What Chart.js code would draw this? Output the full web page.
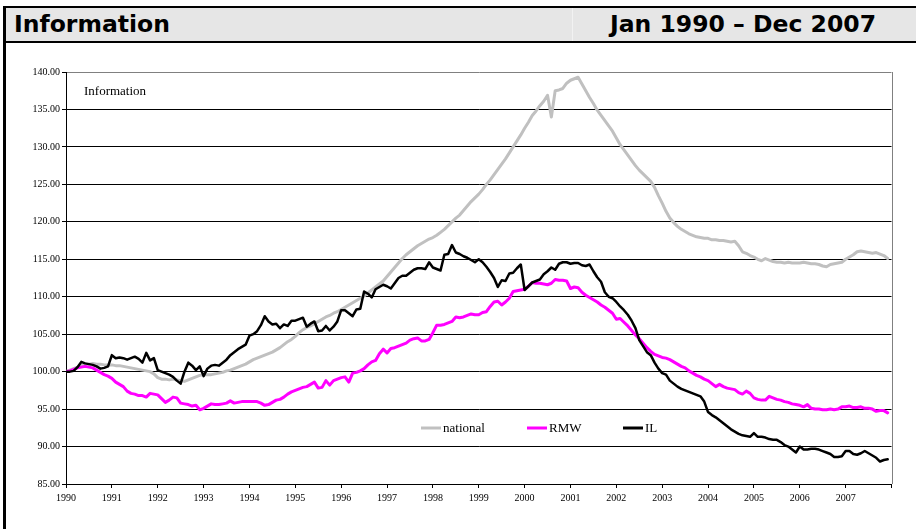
<!DOCTYPE html>
<html lang="en">
<head>
    <meta charset="UTF-8">
    <title>Information</title>
    <script src="https://cdn.jsdelivr.net/npm/chart.js"></script>
    <style>
        body {
            margin: 0;
            width: 916px;
            height: 529px;
            overflow: hidden;
            background: #fff;
            position: relative;
        }
        .frame {
            position: absolute;
            left: 3px;
            top: 6px;
            width: 960px;
            height: 560px;
            border: 2px solid #000;
            border-left-width: 3px;
            box-sizing: border-box;
        }
        .header {
            position: absolute;
            left: 3px;
            top: 6px;
            width: 960px;
            height: 37px;
            background: #e6e6e6;
            border: 2px solid #000;
            border-left-width: 3px;
            box-sizing: border-box;
            font-family: "DejaVu Sans", Arial, sans-serif;
            font-weight: bold;
            font-size: 23.5px;
            color: #000;
            z-index: 2;
        }
        .header span {
            position: absolute;
            top: 2px;
            white-space: nowrap;
        }
        .header .sep {
            position: absolute;
            left: 566px;
            top: 0;
            width: 1px;
            height: 100%;
            background: #f2f2f2;
        }
        #hLeft { left: 8px; }
        #hRight { right: 85px; }
        #chart {
            position: absolute;
            left: 0;
            top: 0;
            z-index: 1;
        }
    </style>
</head>
<body>
    <div class="frame"></div>
    <div class="header">
        <div class="sep"></div>
        <span id="hLeft">Information</span>
        <span id="hRight">Jan 1990 – Dec 2007</span>
    </div>
    <canvas id="chart" width="916" height="529"></canvas>

    <script>
        // monthly index values, Jan 1990 = 100
        const yearLabels = ["1990", "1991", "1992", "1993", "1994", "1995", "1996", "1997", "1998",
            "1999", "2000", "2001", "2002", "2003", "2004", "2005", "2006", "2007"];

        const national = [
            100.0, 100.2, 100.4, 100.6, 100.8, 101.0, 101.0, 101.1, 101.0, 101.0, 100.9, 100.9,
            100.9, 100.8, 100.8, 100.7, 100.6, 100.5, 100.4, 100.3, 100.2, 100.1, 100.0, 99.7,
            99.2, 99.0, 99.0, 98.9, 99.0, 98.9, 98.8, 98.7, 98.9, 99.1, 99.3, 99.5,
            99.6, 99.6, 99.6, 99.7, 99.8, 99.9, 100.1, 100.2, 100.4, 100.6, 100.8, 101.0,
            101.3, 101.6, 101.8, 102.0, 102.2, 102.4, 102.6, 102.9, 103.2, 103.6, 104.0, 104.3,
            104.7, 105.2, 105.6, 105.9, 106.1, 106.4, 106.7, 107.0, 107.3, 107.5, 107.8, 108.0,
            108.3, 108.6, 108.9, 109.2, 109.5, 109.8, 110.1, 110.5, 110.9, 111.3, 111.7, 112.1,
            112.7, 113.3, 113.9, 114.5, 115.1, 115.6, 116.0, 116.4, 116.8, 117.1, 117.4, 117.7,
            117.9, 118.2, 118.6, 119.0, 119.5, 120.0, 120.5, 120.9, 121.5, 122.1, 122.7, 123.2,
            123.7, 124.3, 125.0, 125.6, 126.3, 127.0, 127.7, 128.4, 129.2, 130.0, 130.8, 131.6,
            132.5, 133.3, 134.2, 134.8, 135.5, 136.1, 136.9, 134.0, 137.5, 137.6, 137.8, 138.5,
            138.9, 139.1, 139.3, 138.4, 137.5, 136.6, 135.8, 134.9, 134.2, 133.5, 132.8, 132.1,
            131.2, 130.3, 129.6, 128.9, 128.2, 127.5, 126.9, 126.4, 125.9, 125.4, 124.6, 123.5,
            122.5, 121.4, 120.5, 119.9, 119.4, 119.0, 118.7, 118.4, 118.2, 118.0, 117.9, 117.8,
            117.8, 117.6, 117.6, 117.5, 117.5, 117.4, 117.3, 117.4, 116.8, 116.0, 115.8, 115.5,
            115.3, 115.0, 114.8, 115.1, 114.9, 114.7, 114.6, 114.6, 114.5, 114.6, 114.5, 114.5,
            114.5, 114.6, 114.5, 114.4, 114.4, 114.3, 114.1, 114.0, 114.3, 114.4, 114.5, 114.6,
            115.0, 115.3, 115.6, 116.0, 116.1, 116.0, 115.9, 115.8, 115.9, 115.7, 115.5, 115.1
        ];

        const rmw = [
            100.0, 100.1, 100.3, 100.5, 100.6, 100.7, 100.6, 100.5, 100.2, 99.9, 99.6, 99.4,
            99.1, 98.6, 98.3, 98.0, 97.4, 97.1, 97.0, 96.8, 96.8, 96.6, 97.1, 97.0,
            96.9, 96.4, 95.9, 96.2, 96.6, 96.5, 95.8, 95.7, 95.6, 95.4, 95.5, 94.9,
            95.1, 95.4, 95.7, 95.6, 95.6, 95.7, 95.8, 96.1, 95.8, 95.9, 96.0, 96.0,
            96.0, 96.0, 96.0, 95.8, 95.5, 95.6, 95.9, 96.2, 96.3, 96.6, 97.0, 97.3,
            97.5, 97.7, 97.9, 98.0, 98.3, 98.6, 97.8, 97.9, 98.8, 98.2, 98.8, 99.0,
            99.2, 99.3, 98.6, 99.8, 99.9, 100.1, 100.4, 100.9, 101.3, 101.5, 102.4, 103.0,
            102.5, 103.1, 103.2, 103.4, 103.6, 103.8, 104.2, 104.4, 104.5, 104.1, 104.1, 104.3,
            105.2, 106.2, 106.2, 106.3, 106.5, 106.7, 107.3, 107.2, 107.3, 107.5, 107.7, 107.6,
            107.6, 107.9, 108.0, 108.7, 109.3, 109.4, 108.9, 109.3, 109.8, 110.7, 110.8, 110.9,
            111.0, 111.4, 111.9, 111.8, 111.8, 111.7, 111.6, 111.8, 112.3, 112.2, 112.2, 112.1,
            111.1, 111.3, 111.2, 110.6, 110.2, 109.9, 109.6, 109.3, 108.9, 108.6, 108.2, 107.8,
            107.0, 107.1, 106.6, 106.1, 105.5, 104.9, 104.4, 103.8, 103.2, 102.7, 102.3, 102.1,
            101.9, 101.8, 101.6, 101.3, 101.0, 100.7, 100.5, 100.1, 99.8, 99.5, 99.3, 99.0,
            98.8, 98.4, 98.0, 98.3, 98.0, 97.8, 97.7, 97.6, 97.2, 97.0, 97.4, 97.1,
            96.5, 96.3, 96.2, 96.2, 96.7, 96.5, 96.3, 96.2, 96.0, 95.9, 95.7, 95.6,
            95.5, 95.3, 95.6, 95.1, 95.0, 95.0, 94.9, 94.9, 95.0, 94.9, 95.0, 95.3,
            95.3, 95.4, 95.2, 95.2, 95.3, 95.1, 95.1, 95.0, 94.7, 94.8, 94.8, 94.5
        ];

        const il = [
            100.0, 100.0, 100.1, 100.6, 101.3, 101.1, 101.0, 100.9, 100.7, 100.4, 100.5, 100.7,
            102.2, 101.8, 101.9, 101.8, 101.6, 101.8, 102.0, 101.7, 101.2, 102.5, 101.5, 101.8,
            100.2, 100.0, 99.8, 99.6, 99.3, 98.8, 98.4, 100.0, 101.2, 100.8, 100.2, 100.7,
            99.4, 100.4, 100.8, 100.9, 100.8, 101.2, 101.6, 102.2, 102.6, 103.0, 103.3, 103.6,
            104.8, 105.0, 105.4, 106.2, 107.4, 106.7, 106.3, 106.4, 105.8, 106.3, 106.1, 106.8,
            106.8, 107.0, 107.2, 106.0, 106.4, 106.7, 105.4, 105.5, 106.1, 105.5, 106.0, 106.7,
            108.2, 108.2, 107.8, 107.4, 108.3, 108.4, 110.7, 110.4, 109.9, 111.0, 111.3, 111.6,
            111.4, 111.1, 111.8, 112.5, 112.8, 112.8, 113.2, 113.6, 113.8, 113.8, 113.7, 114.6,
            113.9, 113.7, 113.5, 115.6, 115.7, 116.9, 115.9, 115.7, 115.4, 115.2, 114.9, 114.6,
            115.0, 114.6, 114.0, 113.3, 112.5, 111.3, 112.2, 112.1, 113.1, 113.2, 113.8, 114.3,
            110.9, 111.4, 111.9, 112.1, 112.3, 113.0, 113.4, 113.9, 113.6, 114.4, 114.6, 114.6,
            114.4, 114.5, 114.5, 114.2, 114.1, 114.3, 113.4, 112.6, 112.0, 110.6, 110.0, 109.8,
            109.3, 108.7, 108.2, 107.6, 106.8, 105.8, 104.2, 103.4, 102.6, 102.2, 101.2, 100.4,
            99.8, 99.6, 98.8, 98.4, 98.0, 97.7, 97.5, 97.3, 97.1, 96.9, 96.7, 96.0,
            94.6, 94.2, 93.9, 93.5, 93.1, 92.7, 92.3, 92.0, 91.7, 91.5, 91.4, 91.3,
            91.8, 91.3, 91.3, 91.2, 91.0, 90.9, 90.9, 90.6, 90.2, 90.0, 89.6, 89.2,
            90.0, 89.6, 89.6, 89.7, 89.7, 89.6, 89.4, 89.2, 89.0, 88.6, 88.6, 88.7,
            89.4, 89.4, 89.0, 88.9, 89.1, 89.4, 89.1, 88.8, 88.5, 88.0, 88.2, 88.3
        ];

        const seriesNames = ["national", "RMW", "IL"];
        const seriesColors = ["#c0c0c0", "#ff00ff", "#000000"];
        const innerTitle = "Information";

        const toPoints = arr => arr.map((v, i) => ({ x: i, y: v }));

        // inner title, legend inside the plot, grey right border
        const extras = {
            id: "extras",
            afterDraw(chart) {
                const ctx = chart.ctx;
                const area = chart.chartArea;
                ctx.save();

                ctx.strokeStyle = "#808080";
                ctx.lineWidth = 1;
                ctx.beginPath();
                ctx.moveTo(Math.round(area.right) + 0.5, area.top);
                ctx.lineTo(Math.round(area.right) + 0.5, area.bottom);
                ctx.stroke();

                ctx.fillStyle = "#000";
                ctx.font = '13px "Liberation Serif", "Times New Roman", serif';
                ctx.textBaseline = "middle";
                ctx.fillText(innerTitle, area.left + 18, area.top + 20);

                const legendX = [421, 527, 623];
                const legendY = 428;
                chart.data.datasets.forEach((ds, i) => {
                    const x = legendX[i];
                    ctx.strokeStyle = ds.borderColor;
                    ctx.lineWidth = 3;
                    ctx.beginPath();
                    ctx.moveTo(x, legendY);
                    ctx.lineTo(x + 20, legendY);
                    ctx.stroke();
                    ctx.fillStyle = "#000";
                    ctx.fillText(ds.label, x + 22, legendY + 1);
                });
                ctx.restore();
            }
        };

        Chart.defaults.font.family = '"Liberation Serif", "Times New Roman", serif';
        Chart.defaults.font.size = 10;
        Chart.defaults.color = "#000";

        new Chart(document.getElementById("chart").getContext("2d"), {
            type: "line",
            data: {
                datasets: [
                    { label: seriesNames[0], data: toPoints(national), borderColor: seriesColors[0], borderWidth: 3, order: 3 },
                    { label: seriesNames[1], data: toPoints(rmw), borderColor: seriesColors[1], borderWidth: 3, order: 2 },
                    { label: seriesNames[2], data: toPoints(il), borderColor: seriesColors[2], borderWidth: 2.5, order: 1 }
                ]
            },
            options: {
                responsive: false,
                animation: false,
                layout: { padding: { top: 72, right: 24.5, left: 0, bottom: 0 } },
                elements: {
                    point: { radius: 0 },
                    line: { tension: 0, borderJoinStyle: "round", borderCapStyle: "round" }
                },
                plugins: {
                    legend: { display: false },
                    tooltip: { enabled: false }
                },
                scales: {
                    x: {
                        type: "linear",
                        min: 0,
                        max: 216,
                        afterFit: s => { s.height = 45; },
                        ticks: {
                            stepSize: 12,
                            autoSkip: false,
                            maxRotation: 0,
                            padding: 4,
                            callback: v => yearLabels[v / 12] ?? ""
                        },
                        grid: { drawOnChartArea: false, drawTicks: true, tickLength: 4, color: "#000" },
                        border: { display: true, color: "#000", width: 1 }
                    },
                    y: {
                        min: 85,
                        max: 140,
                        afterFit: s => { s.width = 66; },
                        ticks: {
                            stepSize: 5,
                            padding: 2,
                            callback: v => v.toFixed(2)
                        },
                        grid: {
                            color: c => c.tick && c.tick.value === 140 ? "#808080" : "#000",
                            tickColor: "#000",
                            tickLength: 4,
                            lineWidth: 1
                        },
                        border: { display: true, color: "#000", width: 1 }
                    }
                }
            },
            plugins: [extras]
        });
    </script>
</body>
</html>
